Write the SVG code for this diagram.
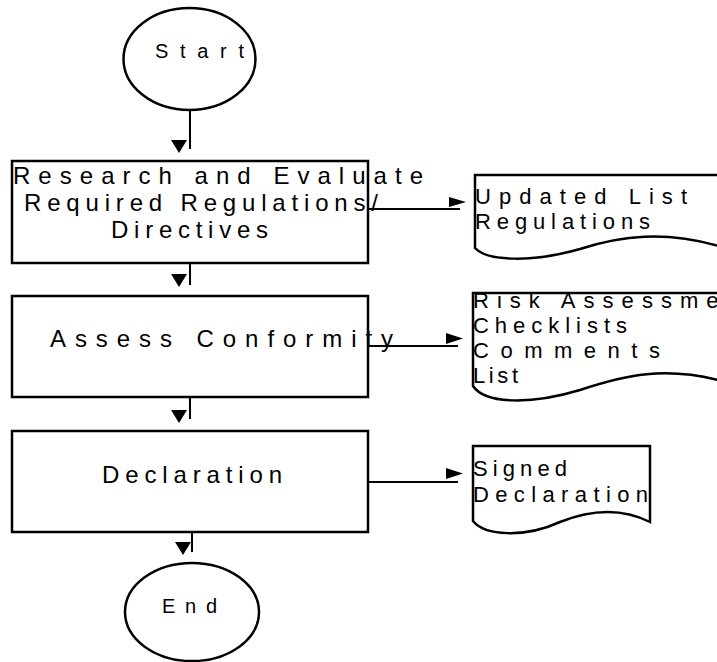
<svg xmlns="http://www.w3.org/2000/svg" width="717" height="662" viewBox="0 0 717 662">
<style>
.shape{fill:#fff;stroke:#000;stroke-width:2.5}
.conn{fill:none;stroke:#000;stroke-width:2}
.head{fill:#000;stroke:none}
.lbl{font-family:"Liberation Sans",Arial,sans-serif;fill:#000}
.sm{font-size:20px}
.bx{font-size:24px}
.dc{font-size:22px}
</style>
<rect width="717" height="662" fill="#fff"/>
<g id="start">
<ellipse class="shape" cx="189.5" cy="59" rx="66" ry="51"/>
<text class="lbl sm" x="155" y="58" textLength="89" lengthAdjust="spacing">Start</text>
</g>
<g id="research">
<rect class="shape" x="12" y="161" width="356" height="102"/>
<text class="lbl bx" x="13" y="184" textLength="410" lengthAdjust="spacing">Research and Evaluate</text>
<text class="lbl bx" x="24" y="211" textLength="354" lengthAdjust="spacing">Required Regulations/</text>
<text class="lbl bx" x="111" y="238" textLength="157" lengthAdjust="spacing">Directives</text>
</g>
<g id="assess">
<rect class="shape" x="12" y="296" width="356" height="101"/>
<text class="lbl bx" x="50" y="347" textLength="343" lengthAdjust="spacing">Assess Conformity</text>
</g>
<g id="declaration">
<rect class="shape" x="12" y="431" width="356" height="101"/>
<text class="lbl bx" x="102" y="483" textLength="180" lengthAdjust="spacing">Declaration</text>
</g>
<g id="end">
<ellipse class="shape" cx="192" cy="612" rx="67" ry="49"/>
<text class="lbl sm" x="162" y="613" textLength="55" lengthAdjust="spacing">End</text>
</g>
<g id="doc-regulations">
<path class="shape" d="M475,175 H722 V247 C665,230 620,236 580,249 C535,262 488,262 475,248 Z"/>
<text class="lbl dc" x="475" y="204" textLength="212" lengthAdjust="spacing">Updated List</text>
<text class="lbl dc" x="475" y="229" textLength="175" lengthAdjust="spacing">Regulations</text>
</g>
<g id="doc-assessment">
<path class="shape" d="M473,293 H722 V381 C665,366 625,375 580,390 C530,405 485,404 473,386 Z"/>
<text class="lbl dc" x="473" y="308" textLength="280" lengthAdjust="spacing">Risk Assessment</text>
<text class="lbl dc" x="473" y="333" textLength="154" lengthAdjust="spacing">Checklists</text>
<text class="lbl dc" x="473" y="358" textLength="187" lengthAdjust="spacing">Comments</text>
<text class="lbl dc" x="473" y="383" textLength="45" lengthAdjust="spacing">List</text>
</g>
<g id="doc-declaration">
<path class="shape" d="M473,446 H650 V522 C620,507 590,510 560,522 C525,538 485,536 473,521 Z"/>
<text class="lbl dc" x="473" y="476" textLength="94" lengthAdjust="spacing">Signed</text>
<text class="lbl dc" x="473" y="502" textLength="175" lengthAdjust="spacing">Declaration</text>
</g>
<g id="connectors">
<path class="conn" d="M190,110 V149"/>
<polygon class="head" points="171,140 187,140 179,153"/>
<path class="conn" d="M190,263 V285"/>
<polygon class="head" points="171,274 187,274 179,287"/>
<path class="conn" d="M190,397 V419"/>
<polygon class="head" points="171,410 187,410 179,423"/>
<path class="conn" d="M192,532 V552"/>
<polygon class="head" points="175,542 191,542 183,555"/>
<path class="conn" d="M368,209 H460"/>
<polygon class="head" points="449,197 449,207 466,202"/>
<path class="conn" d="M368,346 H458"/>
<polygon class="head" points="446,333 446,344 463,338.5"/>
<path class="conn" d="M368,482 H458"/>
<polygon class="head" points="446,468 446,479 463,473.5"/>
</g>
</svg>
